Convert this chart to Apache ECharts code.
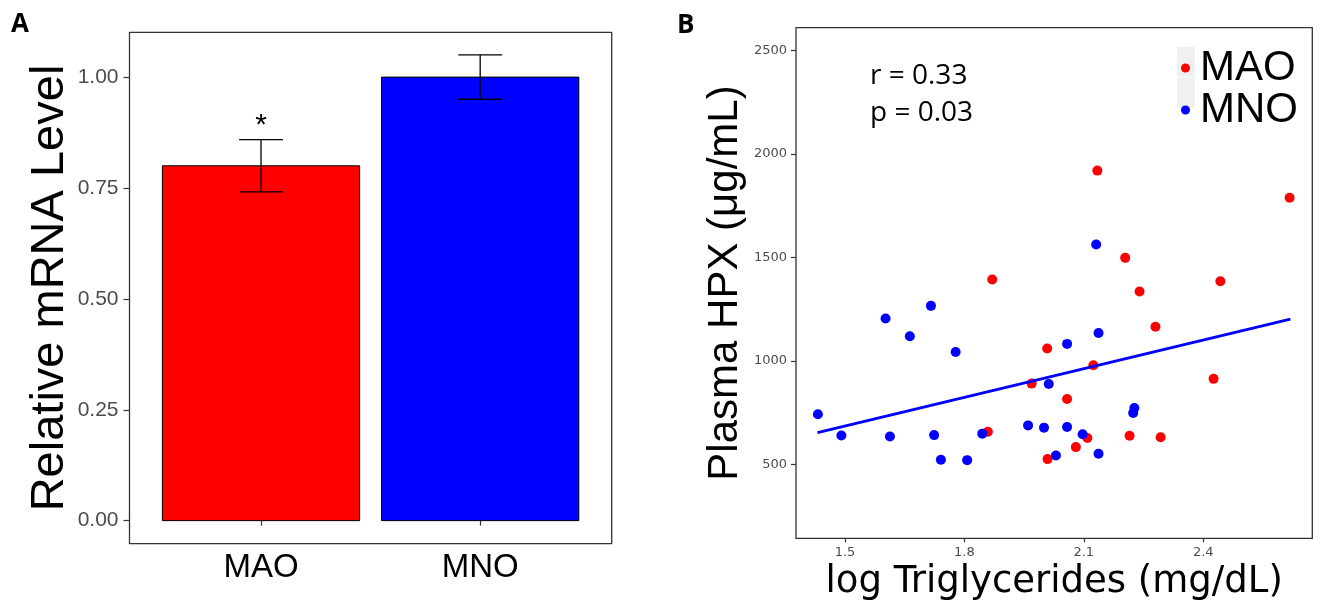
<!DOCTYPE html>
<html>
<head>
<meta charset="utf-8">
<script src="https://cdn.jsdelivr.net/npm/echarts@6/dist/echarts.min.js"></script>
<style>html,body{margin:0;padding:0;background:#fff}#c{width:1321px;height:606px}</style>
</head>
<body>
<div id="c"></div>
<script>
// ---- Panel A data ----
const categories = ['MAO', 'MNO'];
const meanLevel = [0.80, 1.00];
const seLevel = [0.059, 0.050];
const sigMarks = ['*', ''];
const levelTicks = [0, 0.25, 0.5, 0.75, 1.0];

// ---- Panel B data ----
const maoTG  = [2.134, 2.617, 2.204, 1.870, 2.443, 2.240, 2.280, 2.008, 2.124, 2.426, 1.969, 2.058, 1.859, 2.109, 2.215, 2.293, 2.080, 2.009];
const maoHPX = [1920, 1789, 1498, 1393, 1385, 1335, 1165, 1060, 979, 913, 890, 816, 657, 627, 638, 631, 583, 525];
const mnoTG  = [2.131, 1.716, 1.602, 1.663, 1.778, 2.137, 2.058, 2.012, 1.432, 2.227, 2.224, 1.960, 2.000, 2.058, 2.097, 1.491, 1.613, 1.724, 1.845, 1.741, 1.807, 2.030, 2.137];
const mnoHPX = [1563, 1266, 1205, 1119, 1043, 1135, 1082, 888, 742, 772, 748, 688, 677, 680, 645, 639, 634, 641, 648, 522, 520, 542, 551];
const fitTG  = [1.431, 2.619];
const fitHPX = [653, 1202];
const tgTicks = [1.5, 1.8, 2.1, 2.4];
const hpxTicks = [500, 1000, 1500, 2000, 2500];
const statTexts = ['r = 0.33', 'p = 0.03'];
const groupNames = ['MAO', 'MNO'];

const RED = '#ff0000', BLUE = '#0000ff';
const barColors = [RED, BLUE];

const chart = echarts.init(document.getElementById('c'), null, {renderer: 'canvas'});

const barData = categories.map((c, i) => [i + 1, meanLevel[i], seLevel[i], i]);

const option = {
  animation: false,
  backgroundColor: '#fff',
  textStyle: {fontFamily: 'Liberation Sans'},
  grid: [
    {left: 129.5, right: 709.3, top: 32.3, bottom: 62.3, show: true, borderColor: '#333', borderWidth: 1.3, backgroundColor: 'transparent', outerBoundsMode: 'none', containLabel: false},
    {left: 796, right: 8.7, top: 27.7, bottom: 67.7, show: true, borderColor: '#333', borderWidth: 1.3, backgroundColor: 'transparent', outerBoundsMode: 'none', containLabel: false}
  ],
  xAxis: [
    {type: 'value', gridIndex: 0, min: 0.4, max: 2.6,
     axisLine: {show: false}, splitLine: {show: false},
     axisTick: {show: true, customValues: [1, 2], length: 5, lineStyle: {color: '#333', width: 1.2}},
     axisLabel: {customValues: [1, 2], formatter: v => categories[Math.round(v) - 1], fontSize: 33, color: '#000', margin: 8, fontFamily: 'Liberation Sans'}
    },
    {type: 'value', gridIndex: 1, min: 1.377, max: 2.674,
     axisLine: {show: false}, splitLine: {show: false},
     axisTick: {show: true, customValues: tgTicks, length: 4, lineStyle: {color: '#333', width: 1.2}},
     axisLabel: {customValues: tgTicks, formatter: v => v.toFixed(1), fontSize: 13, color: '#4d4d4d', margin: 8, fontFamily: 'DejaVu Sans'},
     name: 'log Triglycerides (mg/dL)', nameLocation: 'middle', nameGap: 23,
     nameTextStyle: {fontSize: 37, color: '#000', fontFamily: 'DejaVu Sans'}
    }
  ],
  yAxis: [
    {type: 'value', gridIndex: 0, min: -0.052, max: 1.101,
     axisLine: {show: false}, splitLine: {show: false},
     axisTick: {show: true, customValues: levelTicks, length: 6, lineStyle: {color: '#333', width: 1.2}},
     axisLabel: {customValues: levelTicks, formatter: v => v.toFixed(2), fontSize: 21, color: '#4d4d4d', margin: 11, fontFamily: 'Liberation Sans'},
     name: 'Relative mRNA Level', nameLocation: 'middle', nameGap: 48,
     nameTextStyle: {fontSize: 47, color: '#000', fontFamily: 'Liberation Sans'}
    },
    {type: 'value', gridIndex: 1, min: 142, max: 2611,
     axisLine: {show: false}, splitLine: {show: false},
     axisTick: {show: true, customValues: hpxTicks, length: 5, lineStyle: {color: '#333', width: 1.2}},
     axisLabel: {customValues: hpxTicks, formatter: v => String(v), fontSize: 13, color: '#4d4d4d', margin: 9, fontFamily: 'DejaVu Sans'},
     name: 'Plasma HPX (\u03bcg/mL)', nameLocation: 'middle', nameGap: 50,
     nameTextStyle: {fontSize: 42, color: '#000', fontFamily: 'Liberation Sans'}
    }
  ],
  legend: {
    orient: 'vertical', left: 1181, top: 47, padding: 0, itemGap: 0,
    itemWidth: 9, itemHeight: 30, icon: 'circle', selectedMode: false,
    data: groupNames,
    textStyle: {fontSize: 42, lineHeight: 30, color: '#000', fontFamily: 'Liberation Sans', padding: [0, 0, 0, 5]}
  },
  graphic: [
    {type: 'rect', shape: {x: 1177, y: 47, width: 18, height: 29.5}, style: {fill: '#f0f0f0'}, z: -1},
    {type: 'rect', shape: {x: 1177, y: 77.5, width: 18, height: 30.5}, style: {fill: '#f0f0f0'}, z: -1},
    {type: 'text', x: 11, y: 24.5, style: {text: 'A', font: 'bold 26px "Open Sans"', fill: '#000', textVerticalAlign: 'middle'}},
    {type: 'text', x: 677, y: 25.5, style: {text: 'B', font: 'bold 26px "Open Sans"', fill: '#000', textVerticalAlign: 'middle'}},
    {type: 'text', x: 870, y: 76, style: {text: statTexts[0], font: '28px "Open Sans"', fill: '#000', textVerticalAlign: 'middle'}},
    {type: 'text', x: 870, y: 113, style: {text: statTexts[1], font: '28px "Open Sans"', fill: '#000', textVerticalAlign: 'middle'}}
  ],
  series: [
    {
      type: 'custom', xAxisIndex: 0, yAxisIndex: 0, data: barData,
      renderItem: (params, api) => {
        const x = api.value(0), y = api.value(1), idx = api.value(3);
        const p0 = api.coord([x - 0.45, y]);
        const p1 = api.coord([x + 0.45, 0]);
        return {type: 'rect', shape: {x: p0[0], y: p0[1], width: p1[0] - p0[0], height: p1[1] - p0[1]},
                style: {fill: barColors[idx], stroke: '#000', lineWidth: 1}};
      }
    },
    {
      type: 'custom', xAxisIndex: 0, yAxisIndex: 0, data: barData, z: 5,
      renderItem: (params, api) => {
        const x = api.value(0), y = api.value(1), e = api.value(2), idx = api.value(3);
        const top = api.coord([x, y + e]), bot = api.coord([x, y - e]);
        const l = api.coord([x - 0.1, y])[0], r = api.coord([x + 0.1, y])[0];
        const ls = {stroke: '#000', lineWidth: 1.3};
        const children = [
          {type: 'line', shape: {x1: top[0], y1: top[1], x2: bot[0], y2: bot[1]}, style: ls},
          {type: 'line', shape: {x1: l, y1: top[1], x2: r, y2: top[1]}, style: ls},
          {type: 'line', shape: {x1: l, y1: bot[1], x2: r, y2: bot[1]}, style: ls}
        ];
        if (sigMarks[idx]) {
          children.push({type: 'text', x: top[0], y: top[1] + 1,
            style: {text: sigMarks[idx], font: '30px "Liberation Sans"', fill: '#000', textAlign: 'center', textVerticalAlign: 'bottom'}});
        }
        return {type: 'group', children};
      }
    },
    {
      name: groupNames[0], type: 'scatter', xAxisIndex: 1, yAxisIndex: 1,
      data: maoTG.map((v, i) => [v, maoHPX[i]]), symbolSize: 10,
      itemStyle: {color: RED, opacity: 1}
    },
    {
      name: groupNames[1], type: 'scatter', xAxisIndex: 1, yAxisIndex: 1,
      data: mnoTG.map((v, i) => [v, mnoHPX[i]]), symbolSize: 10,
      itemStyle: {color: BLUE, opacity: 1}
    },
    {
      type: 'line', xAxisIndex: 1, yAxisIndex: 1, z: 10,
      data: fitTG.map((v, i) => [v, fitHPX[i]]), symbol: 'none',
      lineStyle: {color: BLUE, width: 3}
    }
  ]
};
chart.setOption(option);
</script>
</body>
</html>
